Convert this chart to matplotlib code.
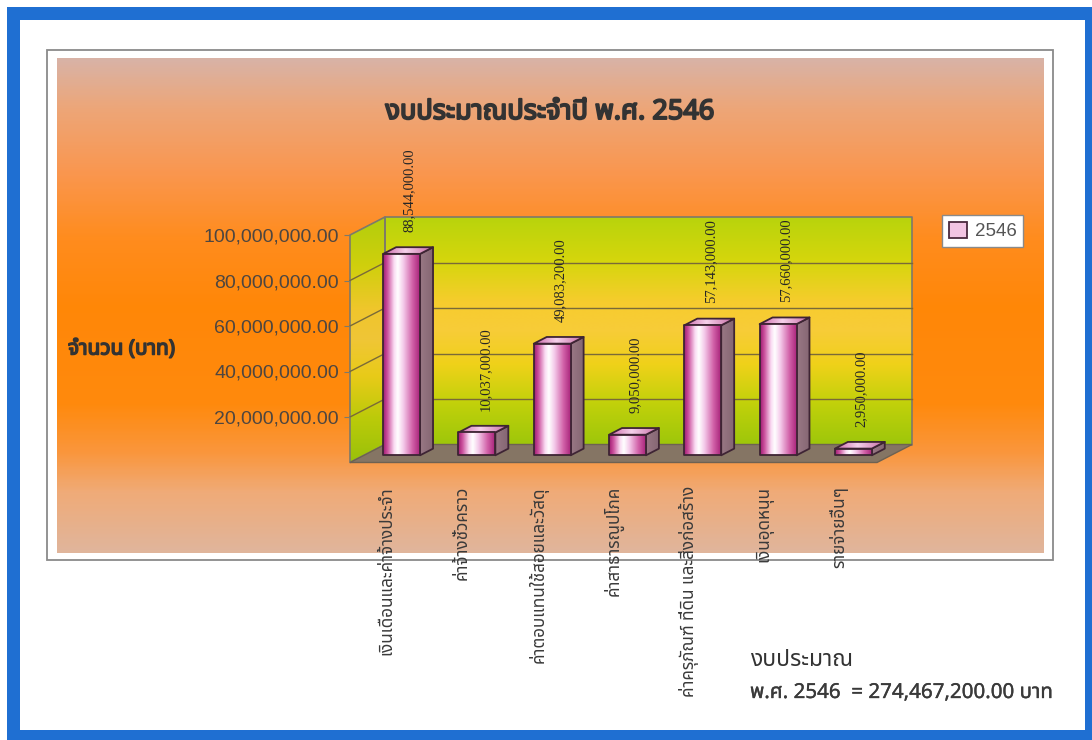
import numpy as np
import matplotlib
matplotlib.use("Agg")
import matplotlib.pyplot as plt
import matplotlib.patheffects as pe
from matplotlib import font_manager as fm
from matplotlib.ft2font import FT2Font
from matplotlib.patches import Polygon, Rectangle, Patch
from matplotlib.colors import LinearSegmentedColormap

# ---------------- data ----------------
categories = [
    "เงินเดือนและค่าจ้างประจำ",
    "ค่าจ้างชั่วคราว",
    "ค่าตอบแทนใช้สอยและวัสดุ",
    "ค่าสาธารณูปโภค",
    "ค่าครุภัณฑ์ ที่ดิน และสิ่งก่อสร้าง",
    "เงินอุดหนุน",
    "รายจ่ายอื่นๆ",
]
values = [88544000.00, 10037000.00, 49083200.00, 9050000.00,
          57143000.00, 57660000.00, 2950000.00]
tick_values = [20e6, 40e6, 60e6, 80e6, 100e6]
tick_labels = ["20,000,000.00", "40,000,000.00", "60,000,000.00",
               "80,000,000.00", "100,000,000.00"]
series_name = "2546"
title_text = "งบประมาณประจำปี พ.ศ. 2546"
ylabel_text = "จำนวน (บาท)"
note_line1 = "งบประมาณ"
note_line2 = "พ.ศ. 2546  = 274,467,200.00 บาท"

# ---------------- fonts ----------------
def thai_families():
    found = []
    for f in fm.fontManager.ttflist:
        try:
            cm = FT2Font(f.fname).get_charmap()
        except Exception:
            continue
        if 0x0E01 in cm and f.name not in found:
            found.append(f.name)
    return found

tf = thai_families()
pref = ["Noto Sans Thai", "Noto Sans Thai UI", "Noto Sans Thai Looped", "Loma",
        "Garuda", "Norasi", "Tlwg Typo"]
thai = None
for p in pref:
    if p in tf:
        thai = p
        break
if thai is None and tf:
    thai = tf[0]
THAI = ([thai] if thai else []) + ["DejaVu Sans"]
SANS = ["Liberation Sans", "DejaVu Sans"]
SERIF = ["Liberation Serif", "DejaVu Serif"]


def bold_fx(color, w=1.1):
    return [pe.withStroke(linewidth=w, foreground=color)]


W, H = 1092, 740
fig = plt.figure(figsize=(W / 100, H / 100), dpi=100)
fig.patch.set_facecolor("white")

# ---------------- background / frames (pixel axes) ----------------
bg = fig.add_axes([0, 0, 1, 1], zorder=0)
bg.set_xlim(0, W)
bg.set_ylim(H, 0)
bg.axis("off")
bg.add_patch(Rectangle((7, 7), W, H, facecolor="#1f6fd2", edgecolor="none"))
bg.add_patch(Rectangle((20, 20), 1065, 710, facecolor="white", edgecolor="none"))
bg.add_patch(Rectangle((47, 50), 1006, 510, facecolor="white", edgecolor="#8a8a8a", lw=1.3))

orange_stops = [(0.0, (0.85, 0.70, 0.65)), (0.10, (0.93, 0.65, 0.47)),
                (0.23, (0.98, 0.59, 0.31)), (0.36, (1.0, 0.55, 0.12)),
                (0.50, (1.0, 0.53, 0.03)), (0.70, (1.0, 0.54, 0.05)),
                (0.80, (0.98, 0.59, 0.24)), (0.88, (0.94, 0.67, 0.47)),
                (1.0, (0.88, 0.71, 0.61))]
ocm = LinearSegmentedColormap.from_list("o", orange_stops)
oimg = ocm(np.linspace(0, 1, 300))[:, :3][:, None, :]
bg.imshow(oimg, extent=(57, 1044, 553, 58), origin="upper", aspect="auto",
          interpolation="bilinear", zorder=1)
bg.set_xlim(0, W)
bg.set_ylim(H, 0)

# ---------------- main axes (front plane of 3D box) ----------------
ax = fig.add_axes([350 / W, (H - 462.5) / H, 527 / W, 227.5 / H], zorder=2)
ax.patch.set_alpha(0)
ax.set_autoscale_on(False)
XMIN, XMAX = -0.5, len(categories) - 0.5
YMAX = 100e6
ax.set_xlim(XMIN, XMAX)
ax.set_ylim(0, YMAX)
for s in ax.spines.values():
    s.set_visible(False)

DX = 35 / (527 / len(categories))   # depth offset in category units
DY = 18 / 227.5 * YMAX              # depth offset in value units


def grad_poly(verts, stops, horizontal, zorder, edge=None, lw=1.0):
    poly = Polygon(verts, closed=True, facecolor="none", edgecolor="none",
                   transform=ax.transData)
    ax.add_patch(poly)
    poly.set_clip_on(False)
    xs = [v[0] for v in verts]
    ys = [v[1] for v in verts]
    cmap = LinearSegmentedColormap.from_list("g", stops)
    arr = cmap(np.linspace(0, 1, 256))[:, :3]
    img = arr[None, :, :] if horizontal else arr[:, None, :]
    im = ax.imshow(img, extent=(min(xs), max(xs), min(ys), max(ys)), origin="lower",
                   aspect="auto", interpolation="bilinear", zorder=zorder)
    im.set_clip_path(poly)
    im.set_clip_box(fig.bbox)
    if edge:
        ax.add_patch(Polygon(verts, closed=True, facecolor="none", edgecolor=edge,
                             lw=lw, zorder=zorder + 0.01, clip_on=False,
                             joinstyle="round"))


wall_stops = [(0.0, (0.62, 0.78, 0.04)), (0.18, (0.76, 0.82, 0.04)),
              (0.35, (0.94, 0.82, 0.10)), (0.50, (0.97, 0.80, 0.22)),
              (0.62, (0.97, 0.80, 0.18)), (0.80, (0.84, 0.84, 0.05)),
              (1.0, (0.72, 0.83, 0.05))]
side_stops = [(p, tuple(min(1, c * 0.97) for c in col)) for p, col in wall_stops]

# back wall
grad_poly([(XMIN + DX, DY), (XMAX + DX, DY), (XMAX + DX, YMAX + DY), (XMIN + DX, YMAX + DY)],
          wall_stops, False, 1, edge="#7d7a6a", lw=1.2)
# side wall
grad_poly([(XMIN, 0), (XMIN + DX, DY), (XMIN + DX, YMAX + DY), (XMIN, YMAX)],
          side_stops, False, 1, edge="#7d7a6a", lw=1.2)
# floor
ax.add_patch(Polygon([(XMIN, 0), (XMAX, 0), (XMAX + DX, DY), (XMIN + DX, DY)],
                     closed=True, facecolor="#857564", edgecolor="#6e6252", lw=1.0,
                     zorder=1.05, clip_on=False))

# gridlines
for tv in tick_values[:-1]:
    ax.plot([XMIN + DX, XMAX + DX], [tv + DY, tv + DY], color="#7a6a38", lw=1.0,
            zorder=1.5, clip_on=False)
    ax.plot([XMIN, XMIN + DX], [tv, tv + DY], color="#7a6a38", lw=1.0,
            zorder=1.5, clip_on=False)

# bars
BW = 0.49
F0, F1 = 0.40, 0.77
front_stops = [(0.0, (0.62, 0.10, 0.44)), (0.12, (0.80, 0.32, 0.62)),
               (0.30, (0.98, 0.86, 0.95)), (0.40, (1.0, 1.0, 1.0)),
               (0.55, (0.96, 0.80, 0.92)), (0.80, (0.82, 0.38, 0.66)),
               (1.0, (0.66, 0.14, 0.48))]
side_bar_stops = [(0.0, (0.60, 0.47, 0.52)), (1.0, (0.52, 0.40, 0.45))]
top_stops = [(0.0, (0.80, 0.40, 0.66)), (0.45, (0.96, 0.82, 0.92)),
             (1.0, (0.78, 0.42, 0.64))]
EDGE = "#3e2434"
for i, v in enumerate(values):
    x0 = i - BW / 2 + F0 * DX
    x1 = i + BW / 2 + F0 * DX
    y0 = F0 * DY
    y1 = v + F0 * DY
    ddx = (F1 - F0) * DX
    ddy = (F1 - F0) * DY
    z = 3 + i * 0.1
    grad_poly([(x1, y0), (x1 + ddx, y0 + ddy), (x1 + ddx, y1 + ddy), (x1, y1)],
              side_bar_stops, True, z, edge=EDGE, lw=1.3)
    grad_poly([(x0, y1), (x1, y1), (x1 + ddx, y1 + ddy), (x0 + ddx, y1 + ddy)],
              top_stops, True, z + 0.02, edge=EDGE, lw=1.3)
    grad_poly([(x0, y0), (x1, y0), (x1, y1), (x0, y1)],
              front_stops, True, z + 0.04, edge=EDGE, lw=1.3)
    ax.annotate(f"{v:,.2f}", xy=(i + (F0 + F1) / 2 * DX + 0.02, v + F1 * DY),
                xytext=(0, 11), textcoords="offset points", rotation=90,
                ha="center", va="bottom", fontsize=10.5, family=SERIF,
                color="#262626", annotation_clip=False, zorder=6)

# axes ticks
ax.set_yticks(tick_values, tick_labels)
ax.tick_params(axis="y", length=4, width=0.8, pad=4, colors="#7d7a6a",
               labelcolor="#4e4640", labelsize=14)
for lab in ax.get_yticklabels():
    lab.set_family(SANS)
ax.set_xticks(range(len(categories)), categories)
ax.tick_params(axis="x", length=0, pad=17)
for lab in ax.get_xticklabels():
    lab.set_family(THAI)
    lab.set_rotation(90)
    lab.set_va("top")
    lab.set_ha("center")
    lab.set_fontsize(12.3)
    lab.set_color("#3a3a3a")

# texts
fig.text(550 / W, 1 - 112 / H, title_text, ha="center", va="center",
         fontsize=19.5, fontweight="bold", family=THAI, color="#333333",
         path_effects=bold_fx("#333333", 1.4))
fig.text(68 / W, 1 - 349 / H, ylabel_text, ha="left", va="center",
         fontsize=15, fontweight="bold", family=THAI, color="#333333",
         path_effects=bold_fx("#333333", 1.1))
fig.text(750 / W, 1 - 660 / H, note_line1, ha="left", va="center",
         fontsize=16.5, family=THAI, color="#333333")
fig.text(750 / W, 1 - 693 / H, note_line2, ha="left", va="center",
         fontsize=14.8, family=THAI, color="#3a3a3a",
         path_effects=bold_fx("#3a3a3a", 0.25))

# legend
handle = Patch(facecolor="#f2c4e2", edgecolor="#4a2a3e", lw=1.3)
leg = fig.legend([handle], [series_name], loc="upper left",
                 bbox_to_anchor=(942 / W, 1 - 215 / H), frameon=True,
                 fancybox=False, edgecolor="#8a8a8a", facecolor="white",
                 framealpha=1, prop={"family": SANS, "size": 13.5},
                 handlelength=1.0, handleheight=1.0, handletextpad=0.4,
                 borderpad=0.35, borderaxespad=0)
leg.get_frame().set_linewidth(1.0)
for t in leg.get_texts():
    t.set_color("#555555")
leg.set_zorder(10)

ax.set_xlim(XMIN, XMAX)
ax.set_ylim(0, YMAX)
fig.savefig("out.png", dpi=100)
